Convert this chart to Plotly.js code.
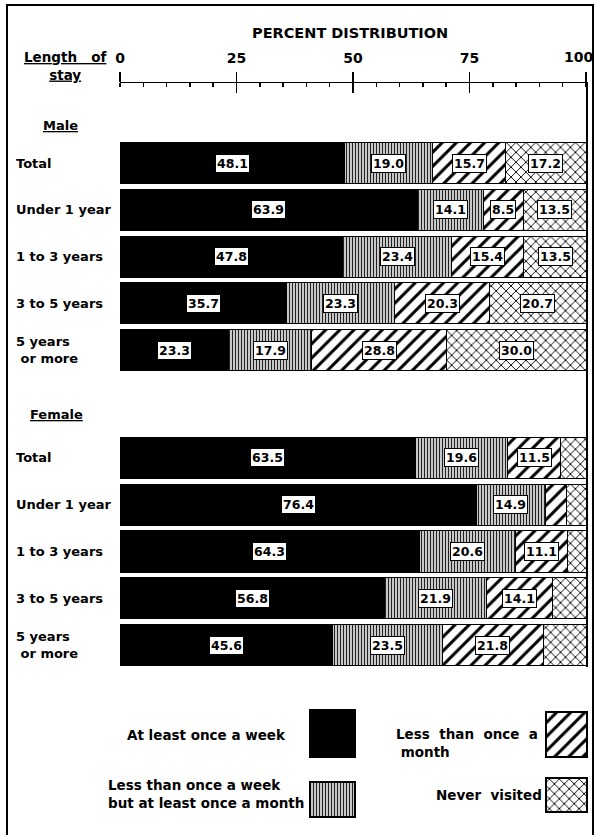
<!DOCTYPE html>
<html>
<head>
<meta charset="utf-8">
<script src="https://cdn.plot.ly/plotly-3.0.1.min.js"></script>
<style>
html,body{margin:0;padding:0;background:#fff;}
#chart{width:597px;height:835px;}
</style>
</head>
<body>
<div id="chart"></div>
<script>
// ---------------- DATA ----------------
const rowLabels = ['Total', 'Under 1 year', '1 to 3 years', '3 to 5 years', '5 years<br>&nbsp;or more'];
const groupLabels = ['Male', 'Female'];
const seriesNames = ['At least once a week', 'Less than once a week<br>but at least once a month', 'Less&nbsp;&nbsp;than&nbsp;&nbsp;once&nbsp;&nbsp;a<br>&nbsp;month', 'Never&nbsp;&nbsp;visited'];

const maleWeekly   = [48.1, 63.9, 47.8, 35.7, 23.3];
const maleMonthly  = [19.0, 14.1, 23.4, 23.3, 17.9];
const maleLess     = [15.7, 8.5, 15.4, 20.3, 28.8];
const maleNever    = [17.2, 13.5, 13.5, 20.7, 30.0];

const femaleWeekly  = [63.5, 76.4, 64.3, 56.8, 45.6];
const femaleMonthly = [19.6, 14.9, 20.6, 21.9, 23.5];
const femaleLess    = [11.5, 4.6, 11.1, 14.1, 21.8];
const femaleNever   = [5.4, 4.1, 4.0, 7.2, 9.1];

// which segments carry a printed value label
const maleShow   = [[1,1,1,1,1],[1,1,1,1,1],[1,1,1,1,1],[1,1,1,1,1]];
const femaleShow = [[1,1,1,1,1],[1,1,1,1,1],[1,0,1,1,1],[0,0,0,0,0]];

const xTicks = [0, 25, 50, 75, 100];

// ---------------- LAYOUT HELPERS ----------------
const W = 597, H = 835;
const FONT = 'DejaVu Sans';
const femaleOffset = 6.3;
const rowPos = (g, i) => g === 0 ? i : i + femaleOffset;
const txt = (size) => ({family: FONT, size: size, color: 'black', weight: 'bold'});

const male = [maleWeekly, maleMonthly, maleLess, maleNever];
const female = [femaleWeekly, femaleMonthly, femaleLess, femaleNever];

const styles = [
  {color: 'black', pattern: {shape: ''}},
  {color: 'white', pattern: {shape: '|', fgcolor: '#222', bgcolor: 'white', size: 3, solidity: 0.5}},
  {color: 'white', pattern: {shape: '/', fgcolor: 'black', bgcolor: 'white', size: 10, solidity: 0.3}},
  {color: 'white', pattern: {shape: 'x', fgcolor: 'black', bgcolor: 'white', size: 7, solidity: 0.25}}
];

const yVals = [];
for (let g = 0; g < 2; g++) for (let i = 0; i < 5; i++) yVals.push(rowPos(g, i));

const traces = [];
for (let s = 0; s < 4; s++) {
  traces.push({
    type: 'bar', orientation: 'h',
    x: male[s].concat(female[s]),
    y: yVals,
    width: 0.88,
    marker: {color: styles[s].color, pattern: styles[s].pattern, line: {color: 'black', width: 1}},
    hoverinfo: 'skip', showlegend: false,
    xaxis: 'x', yaxis: 'y'
  });
}
// dummy trace so the overlay axis (downward major ticks) exists
traces.push({type: 'scatter', x: [], y: [], xaxis: 'x2', yaxis: 'y', showlegend: false});

// legend swatches on their own pixel-like axis
const legendCfg = {
  cols: [{x0: 310, w: 45}, {x0: 546, w: 41}],
  cells: [
    {col: 0, y0: 710, h: 47},
    {col: 0, y0: 782, h: 35},
    {col: 1, y0: 712, h: 45},
    {col: 1, y0: 778, h: 34}
  ],
  textRight: [288, 306, 540, 544],
  textY: [735, 794, 743, 795],
  textAlign: ['right', 'left', 'left', 'right']
};
for (let s = 0; s < 4; s++) {
  const c = legendCfg.cells[s], col = legendCfg.cols[c.col];
  traces.push({
    type: 'bar', orientation: 'h',
    base: [col.x0], x: [col.w], y: [c.y0 + c.h / 2], width: c.h,
    marker: {color: styles[s].color, pattern: styles[s].pattern, line: {color: 'black', width: 1.5}},
    hoverinfo: 'skip', showlegend: false,
    xaxis: 'x3', yaxis: 'y3'
  });
}

// ---------------- ANNOTATIONS ----------------
const ann = [];
const groups = [male, female];
const shows = [maleShow, femaleShow];
for (let g = 0; g < 2; g++) {
  for (let i = 0; i < 5; i++) {
    let cum = 0;
    for (let s = 0; s < 4; s++) {
      const v = groups[g][s][i];
      if (shows[g][s][i]) {
        ann.push({
          x: cum + v / 2, y: rowPos(g, i), xref: 'x', yref: 'y', xanchor: 'center',
          text: v.toFixed(1), showarrow: false,
          bgcolor: 'white', bordercolor: 'black', borderwidth: 1, borderpad: 1,
          font: txt(12.5)
        });
      }
      cum += v;
    }
    ann.push({
      x: 14 / W, xref: 'paper', xanchor: 'left', y: rowPos(g, i), yref: 'y',
      text: rowLabels[i], showarrow: false, align: 'left',
      font: txt(13)
    });
  }
}
// group headers
ann.push({x: 60 / W, xref: 'paper', xanchor: 'center', y: -0.81, yref: 'y', text: '<u>' + groupLabels[0] + '</u>', showarrow: false,
  font: txt(13)});
ann.push({x: 56 / W, xref: 'paper', xanchor: 'center', y: femaleOffset - 0.92, yref: 'y', text: '<u>' + groupLabels[1] + '</u>', showarrow: false,
  font: txt(13)});
// stub header
ann.push({x: 65 / W, xref: 'paper', xanchor: 'center', y: (H - 66) / H, yref: 'paper', yanchor: 'middle',
  text: '<u>Length&nbsp;&nbsp;&nbsp;of</u><br><u>stay</u>',
  showarrow: false, align: 'center', font: txt(13.5)});
// axis title
ann.push({x: 350 / W, xref: 'paper', xanchor: 'center', y: (H - 33) / H, yref: 'paper', yanchor: 'middle',
  text: 'PERCENT DISTRIBUTION', showarrow: false, font: txt(14.5)});
// last tick label, pulled in slightly so it stays inside the frame
const lastTick = xTicks[xTicks.length - 1];
ann.push({x: lastTick, xref: 'x', xanchor: 'center', xshift: -8, y: (H - 57) / H, yref: 'paper', yanchor: 'middle',
  text: String(lastTick), showarrow: false, font: txt(14)});
// legend texts
for (let s = 0; s < 4; s++) {
  ann.push({x: legendCfg.textRight[s] / W, xref: 'paper', xanchor: 'right',
    y: (H - legendCfg.textY[s]) / H, yref: 'paper', yanchor: 'middle',
    text: seriesNames[s], showarrow: false, align: legendCfg.textAlign[s],
    font: txt(13.5)});
}

// ---------------- LAYOUT ----------------
const xDom = [120 / W, 586 / W];
const yDom = [(H - 667) / H, (H - 83) / H];
const layout = {
  width: W, height: H,
  margin: {l: 0, r: 0, t: 0, b: 0},
  paper_bgcolor: 'white', plot_bgcolor: 'rgba(0,0,0,0)',
  barmode: 'stack',
  font: {family: FONT, color: 'black'},
  xaxis: {
    domain: xDom, anchor: 'y', side: 'top', range: [0, 100], fixedrange: true,
    tickvals: xTicks, ticktext: xTicks.map((v, i) => i === xTicks.length - 1 ? '' : String(v)),
    ticks: 'outside', ticklen: 10, tickwidth: 1.5, tickcolor: 'black',
    ticklabelstandoff: 3, ticklabeloverflow: 'allow',
    showline: true, linecolor: 'black', linewidth: 1.5,
    minor: {dtick: 5, tick0: 0, ticks: 'inside', ticklen: 4, tickwidth: 1.5, tickcolor: 'black', showgrid: false},
    showgrid: false, zeroline: false,
    tickfont: txt(14)
  },
  xaxis2: {
    domain: xDom, anchor: 'y', overlaying: 'x', side: 'top', range: [0, 100], fixedrange: true,
    tickvals: xTicks, ticks: 'inside', ticklen: 10, tickwidth: 1.5, tickcolor: 'black',
    showticklabels: false, showline: false, showgrid: false, zeroline: false
  },
  yaxis: {
    domain: yDom, anchor: 'x', range: [10.77, -1.71], side: 'right', fixedrange: true,
    showline: true, linecolor: 'black', linewidth: 2,
    showticklabels: false, ticks: '', showgrid: false, zeroline: false
  },
  xaxis3: {domain: [0, 1], anchor: 'y3', range: [0, W], visible: false, fixedrange: true},
  yaxis3: {domain: [0, 160 / H], anchor: 'x3', range: [H, H - 160], visible: false, fixedrange: true},
  annotations: ann,
  shapes: [{
    type: 'rect', xref: 'paper', yref: 'paper',
    x0: 7 / W, x1: 593 / W, y0: -0.01, y1: (H - 5) / H,
    line: {color: 'black', width: 2}, fillcolor: 'rgba(0,0,0,0)', layer: 'above'
  }]
};

Plotly.newPlot('chart', traces, layout, {staticPlot: true, displayModeBar: false});
</script>
</body>
</html>
